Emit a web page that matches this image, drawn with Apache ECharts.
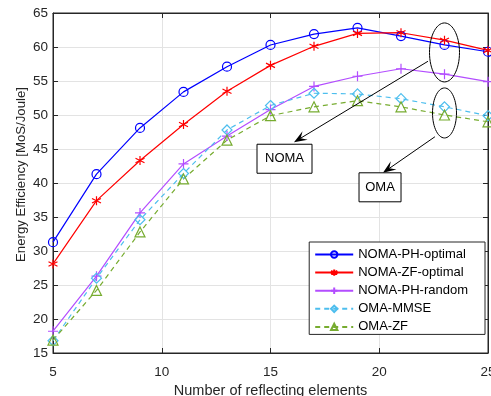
<!DOCTYPE html>
<html>
<head>
<meta charset="utf-8">
<script src="https://cdn.jsdelivr.net/npm/echarts@6/dist/echarts.min.js"></script>
<style>
html, body { margin: 0; padding: 0; background: #fff; }
#main { width: 491px; height: 396px; }
</style>
</head>
<body>
<div id="main"></div>
<script>
var elements = [5, 7, 9, 11, 13, 15, 17, 19, 21, 23, 25];
var nomaPhOptimal = [31.3, 41.3, 48.1, 53.4, 57.1, 60.3, 61.9, 62.8, 61.6, 60.3, 59.3];
var nomaZfOptimal = [28.1, 37.4, 43.3, 48.6, 53.5, 57.3, 60.1, 62.0, 62.1, 61.0, 59.5];
var nomaPhRandom = [18.2, 26.3, 35.6, 42.8, 46.9, 50.8, 54.2, 55.7, 56.8, 56.0, 54.9];
var omaMmse = [16.8, 26.0, 34.6, 41.4, 47.8, 51.4, 53.2, 53.1, 52.4, 51.2, 49.9];
var omaZf = [16.9, 24.2, 32.8, 40.6, 46.3, 49.9, 51.2, 52.1, 51.2, 50.0, 49.0];

var font = 'Liberation Sans, Arial, sans-serif';
var asterisk = 'path://M0,-5L0,5M-4.33,-2.5L4.33,2.5M-4.33,2.5L4.33,-2.5M0,-5';
var plus = 'path://M0,-5L0,5M-5,0L5,0M0,-5';

function pairs(ys) {
    return elements.map(function (x, i) { return [x, ys[i]]; });
}

function line(name, ys, color, symbol, size, dashed) {
    return {
        name: name,
        type: 'line',
        data: pairs(ys),
        symbol: symbol,
        symbolSize: size,
        showSymbol: true,
        lineStyle: { color: color, width: 1.2, type: dashed ? [5, 4] : 'solid' },
        itemStyle: { color: 'rgba(255,255,255,0)', borderColor: color, borderWidth: 1.2 },
        emphasis: { disabled: true },
        animation: false
    };
}

var myChart = echarts.init(document.getElementById('main'));
var option = {
    animation: false,
    textStyle: { fontFamily: font },
    grid: {
        left: 53, right: 3, top: 13, bottom: 43,
        outerBoundsMode: 'none',
        show: true, borderColor: '#262626', borderWidth: 1
    },
    legend: {
        orient: 'vertical',
        right: 6,
        top: 242,
        padding: [6, 17, 1, 5],
        itemWidth: 38,
        itemHeight: 8,
        itemGap: 5.1,
        backgroundColor: '#fff',
        borderColor: '#262626',
        borderWidth: 1,
        borderRadius: 0,
        textStyle: { fontSize: 13, color: '#000', fontFamily: font },
        data: ['NOMA-PH-optimal', 'NOMA-ZF-optimal', 'NOMA-PH-random', 'OMA-MMSE', 'OMA-ZF']
    },
    xAxis: [{
        type: 'value',
        min: 5, max: 25, interval: 5,
        name: 'Number of reflecting elements',
        nameLocation: 'middle',
        nameGap: 30,
        nameMoveOverlap: false,
        nameTextStyle: { fontSize: 14.5, color: '#262626' },
        axisLine: { show: true, lineStyle: { color: '#262626' } },
        axisTick: { inside: true, length: 5, lineStyle: { color: '#262626' } },
        axisLabel: { fontSize: 13.5, color: '#262626', margin: 12 },
        splitLine: { show: true, lineStyle: { color: '#e3e3e3' } }
    }, {
        type: 'value', position: 'top',
        min: 5, max: 25, interval: 5,
        axisLine: { show: true, lineStyle: { color: '#262626' } },
        axisTick: { inside: true, length: 5, lineStyle: { color: '#262626' } },
        axisLabel: { show: false },
        splitLine: { show: false }
    }],
    yAxis: [{
        type: 'value',
        min: 15, max: 65, interval: 5,
        name: 'Energy Efficiency [MoS/Joule]',
        nameLocation: 'middle',
        nameGap: 25,
        nameMoveOverlap: false,
        nameTextStyle: { fontSize: 13.2, color: '#262626', padding: [0, 0, 0, 17] },
        axisLine: { show: true, lineStyle: { color: '#262626' } },
        axisTick: { inside: true, length: 5, lineStyle: { color: '#262626' } },
        axisLabel: { fontSize: 13.5, color: '#262626', margin: 5 },
        splitLine: { show: true, lineStyle: { color: '#e3e3e3' } }
    }, {
        type: 'value', position: 'right',
        min: 15, max: 65, interval: 5,
        axisLine: { show: true, lineStyle: { color: '#262626' } },
        axisTick: { inside: true, length: 5, lineStyle: { color: '#262626' } },
        axisLabel: { show: false },
        splitLine: { show: false }
    }],
    series: [
        line('NOMA-PH-optimal', nomaPhOptimal, '#0000ff', 'circle', 9, false),
        line('NOMA-ZF-optimal', nomaZfOptimal, '#ff0000', asterisk, 9, false),
        line('NOMA-PH-random', nomaPhRandom, '#b34dff', plus, 10, false),
        line('OMA-MMSE', omaMmse, '#4dbeee', 'diamond', 10, true),
        line('OMA-ZF', omaZf, '#77ac30', 'triangle', 10, true)
    ]
};
myChart.setOption(option);

// annotations placed from data coordinates
function px(x, y) { return myChart.convertToPixel({ gridIndex: 0 }, [x, y]); }

function ellipse(cx, cy, rx, ry) {
    var c = px(cx, cy), pts = [];
    for (var i = 0; i < 60; i++) {
        var a = i / 60 * Math.PI * 2;
        pts.push([c[0] + rx * Math.cos(a), c[1] + ry * Math.sin(a)]);
    }
    return { type: 'polygon', shape: { points: pts }, style: { fill: null, stroke: '#000', lineWidth: 1 }, z: 10 };
}

function arrow(x0, y0, x1, y1) {
    var a = px(x0, y0), b = px(x1, y1);
    var ang = Math.atan2(b[1] - a[1], b[0] - a[0]);
    var len = 13, wid = 5;
    var back = [b[0] - len * Math.cos(ang), b[1] - len * Math.sin(ang)];
    var mid = [b[0] - len * 0.6 * Math.cos(ang), b[1] - len * 0.6 * Math.sin(ang)];
    var l = [back[0] + wid * Math.sin(ang), back[1] - wid * Math.cos(ang)];
    var r = [back[0] - wid * Math.sin(ang), back[1] + wid * Math.cos(ang)];
    return [
        { type: 'line', shape: { x1: a[0], y1: a[1], x2: mid[0], y2: mid[1] }, style: { stroke: '#000', lineWidth: 1 }, z: 10 },
        { type: 'polygon', shape: { points: [b, l, mid, r] }, style: { fill: '#000' }, z: 10 }
    ];
}

function label(x, y, w, h, text) {
    var p = px(x, y);
    return [
        { type: 'rect', shape: { x: p[0], y: p[1], width: w, height: h }, style: { fill: '#fff', stroke: '#000', lineWidth: 1 }, z: 10 },
        { type: 'text', x: p[0] + w / 2, y: p[1] + h / 2, style: { text: text, font: '13px ' + font, fill: '#000', align: 'center', verticalAlign: 'middle' }, z: 11 }
    ];
}

var graphics = [ellipse(23, 59.2, 15, 29.5), ellipse(23, 50.3, 12, 25)]
    .concat(arrow(22.24, 57.9, 16.08, 46.0))
    .concat(arrow(22.56, 46.8, 20.17, 41.5))
    .concat(label(14.38, 45.7, 55, 29, 'NOMA'))
    .concat(label(19.07, 41.5, 42, 29, 'OMA'));
myChart.setOption({ graphic: graphics });
</script>
</body>
</html>
